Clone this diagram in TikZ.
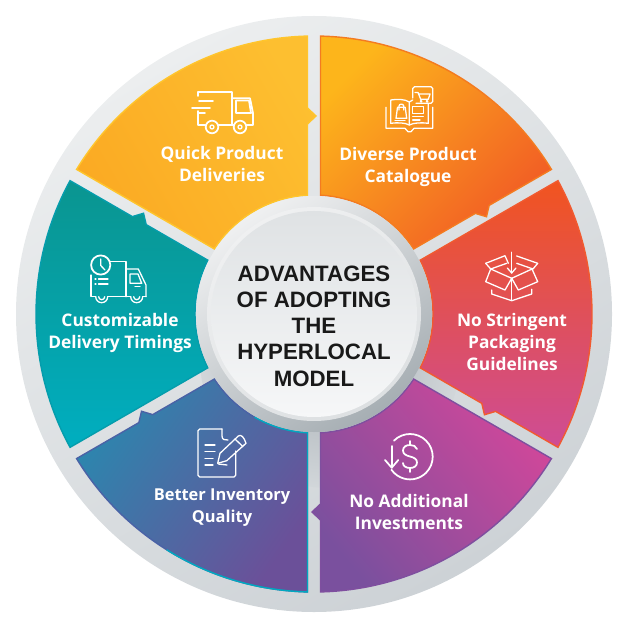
\documentclass[tikz,border=0pt]{standalone}
\usepackage{fontspec}
\setmainfont{Liberation Sans}
\newfontfamily\labelfont{Open Sans}
\usetikzlibrary{arrows}
\definecolor{diskA}{HTML}{ECEEEF}
\definecolor{diskB}{HTML}{CDD2D6}
\definecolor{hubA}{HTML}{EFF0F1}
\definecolor{hubB}{HTML}{A6AEB3}
\definecolor{rimB}{HTML}{DDE0E2}
\definecolor{coreA}{HTML}{DFE2E4}
\definecolor{coreB}{HTML}{F6F7F8}
\definecolor{yellowA}{HTML}{FDBF30}
\definecolor{yellowB}{HTML}{FBAA23}
\definecolor{yellowE}{HTML}{FFC52C}
\definecolor{tealA}{HTML}{0A9590}
\definecolor{tealB}{HTML}{00AEC0}
\definecolor{tealE}{HTML}{059DAC}
\definecolor{blueA}{HTML}{2C86AE}
\definecolor{blueB}{HTML}{6B5099}
\definecolor{blueE}{HTML}{4A62A6}
\definecolor{blueR}{HTML}{00A9C0}
\definecolor{magentaA}{HTML}{D1479A}
\definecolor{magentaB}{HTML}{7A509E}
\definecolor{magentaE}{HTML}{7F4F9F}
\definecolor{redA}{HTML}{F1541F}
\definecolor{redB}{HTML}{CE4C95}
\definecolor{redE}{HTML}{F15A30}
\definecolor{orangeA}{HTML}{FDB51B}
\definecolor{orangeB}{HTML}{F15A25}
\definecolor{orangeE}{HTML}{F47B20}
\newcommand{\petal}{(91.34:278) arc[start angle=91.34,end angle=148.66,radius=278]
  -- (146.87:119) arc[start angle=146.87,end angle=93.13,radius=119]
  -- (-6.5,190) -- (2,198) -- (-6.5,206) -- cycle}
\begin{document}
\begin{tikzpicture}[x=.03cm,y=-.03cm]
  \tikzstyle{yellow petal}=[draw=yellowE,top color=yellowA,bottom color=yellowB,shading angle=-60]
  \tikzstyle{teal petal}=[draw=tealE,top color=tealA,bottom color=tealB,shading angle=0]
  \tikzstyle{blue petal}=[draw=blueE,top color=blueA,bottom color=blueB,shading angle=55]
  \tikzstyle{magenta petal}=[draw=magentaE,top color=magentaA,bottom color=magentaB,shading angle=-50]
  \tikzstyle{red petal}=[draw=redE,top color=redA,bottom color=redB,shading angle=0]
  \tikzstyle{orange petal}=[draw=orangeE,top color=orangeA,bottom color=orangeB,shading angle=45]
  \tikzstyle{icon}=[draw=white,line width=1.5pt,line join=round,line cap=round]
  \tikzstyle{thin icon}=[icon,line width=1.1pt]
  \tikzstyle{caption}=[text=white,align=center,font=\labelfont\bfseries\fontsize{14.8pt}{18.8pt}\selectfont]
  \useasboundingbox (0,0) rectangle (628,628);
  % disk, shadow and hub
  \shade[top color=diskA,bottom color=diskB,shading angle=30] (314,314) circle[radius=298];
  \shade[inner color=hubB,outer color=diskB!85!diskA] (330,358) circle[radius=130];
  \foreach \rot/\kind in {0/yellow petal,60/teal petal,120/blue petal,180/magenta petal,240/red petal,300/orange petal}
  {
    \begin{scope}[shift={(314,314)},y=.03cm,rotate=\rot]
      \path[\kind,line width=1.2pt,shade] \petal;
    \end{scope}
  }
  \begin{scope}[shift={(314,314)},y=.03cm,rotate=120]
    \draw[blueR,line width=1.2pt] (118:278) arc[start angle=118,end angle=148.66,radius=278]
      -- (146.87:119) arc[start angle=146.87,end angle=120,radius=119];
  \end{scope}
  \shade[top color=hubA,bottom color=hubB,shading angle=35] (314,314) circle[radius=118];
  \shade[top color=hubA,bottom color=rimB,shading angle=30] (314,314) circle[radius=107];
  \shade[top color=coreA,bottom color=coreB,shading angle=0] (314,314) circle[radius=103];
  \node[align=center,text=black!90,font=\bfseries\fontsize{19pt}{22.45pt}\selectfont] (hub) at (314,326)
    {ADVANTAGES\\OF ADOPTING\\THE\\HYPERLOCAL\\MODEL};
  % captions
  \node[caption] (quick) at (222,164) {Quick Product\\Deliveries};
  \node[caption] (diverse) at (408,167) {Diverse Product\\Catalogue};
  \node[caption] (stringent) at (512,342) {No Stringent\\Packaging\\Guidelines};
  \node[caption] (additional) at (409,512) {No Additional\\Investments};
  \node[caption,font=\labelfont\bfseries\fontsize{14pt}{18.8pt}\selectfont] (better) at (222,508) {Better Inventory\\Quality};
  \node[caption] (custom) at (120,333) {Customizable\\Delivery Timings};
  % truck
  \draw[icon] (198,96) -- (198,91.7) -- (231.7,91.7) -- (231.7,125) -- (218.5,125);
  \draw[icon] (198,111) -- (198,125) -- (205.5,125);
  \draw[icon] (231.7,98.3) -- (250,98.3) -- (253,113) -- (253,125) -- (246.5,125);
  \draw[icon] (233.5,125) -- (231.7,125);
  \draw[icon] (236,100.5) -- (249,100.5) -- (251,113) -- (236,113) -- cycle;
  \draw[icon] (199,101) -- (213,101);
  \draw[icon] (192,107.7) -- (210,107.7);
  \draw[icon] (198,113) -- (205,113);
  \draw[icon] (212,127) circle[radius=6.3] (240,127) circle[radius=6.3];
  \draw[thin icon] (212,127) circle[radius=2] (240,127) circle[radius=2];
  % book with cart
  \draw[thin icon,rounded corners=1.5] (412.7,98) -- (412.7,86.7) -- (432.7,86.7) -- (432.7,103.3) -- (416,103.3);
  \draw[thin icon] (415,92.5) -- (418,92.5) -- (420.7,99.3) -- (428.3,99.3) -- (430,94) -- (419,94);
  \draw[thin icon] (421,101.3) circle[radius=.8] (427,101.3) circle[radius=.8];
  \draw[thin icon] (386,107.3) -- (386,128.3) -- (405,128.3) -- (408,131.7) -- (411,131.7) -- (414,128.3) -- (432.7,128.3) -- (432.7,107.3);
  \draw[thin icon] (390.7,123.3) -- (390.7,100) .. controls (397,99) and (405,99) .. (409.3,102) -- (409.3,125);
  \draw[thin icon] (390.7,123.3) .. controls (397,122.5) and (405,122.5) .. (409.3,125) .. controls (414,122.5) and (422,122.5) .. (428.3,123.3) -- (428.3,104);
  \draw[thin icon] (409.3,102) -- (412.7,100);
  \draw[thin icon] (396,118.3) -- (397.5,107.3) -- (405.2,107.3) -- (406.7,118.3) -- cycle;
  \draw[thin icon] (399,110) -- (399,106) .. controls (399,103.5) and (403.7,103.5) .. (403.7,106) -- (403.7,110);
  \draw[thin icon] (395,120.3) -- (405,120.3);
  \draw[thin icon] (412.7,106.7) rectangle (423.3,113.3);
  \draw[thin icon] (412.7,116.7) -- (423.3,116.7) (412.7,120) -- (420,120);
  % box
  \draw[thin icon] (485.7,263.3) -- (505,255.7) -- (508.3,263.3);
  \draw[thin icon] (516.7,256) -- (537.7,263.3) -- (533,269) -- (516.7,263.3);
  \draw[thin icon] (485.7,263.3) -- (490.7,269) -- (506.7,263.3);
  \draw[thin icon] (490.7,269) -- (511.7,278.3) -- (505,290) -- (485.7,281.7) -- cycle;
  \draw[thin icon] (532,269) -- (511.7,278.3) -- (518.3,290) -- (537.7,281.7) -- cycle;
  \draw[thin icon] (491.7,290) -- (491.7,294) -- (511.7,300.7) -- (531.7,294) -- (531.7,289.3);
  \draw[thin icon] (511.7,278.3) -- (511.7,300);
  \draw[thin icon] (511.7,252.3) -- (511.7,273);
  \draw[thin icon] (507.3,268) -- (511.7,273) -- (516,268);
  % clock truck
  \draw[icon] (100.7,265) circle[radius=9.6];
  \draw[thin icon] (100.7,259) -- (100.7,265.5) -- (105,270);
  \draw[thin icon] (110,261.7) -- (126,261.7) -- (126,296.7);
  \draw[thin icon] (91,275) -- (91,296.7) -- (95.7,296.7) (107.7,296.7) -- (130.7,296.7) (142.7,296.7) -- (146,296.7);
  \draw[thin icon] (126,269) -- (138.3,269) -- (146,285) -- (146,296.7);
  \draw[thin icon] (130,274) -- (138,274) -- (141.7,283.3) -- (130,283.3) -- cycle;
  \draw[thin icon] (135,286.7) -- (140,286.7);
  \draw[thin icon] (95,279) -- (96,279) (98.5,279) -- (108,279) (95,284) -- (96,284) (98.5,284) -- (108,284);
  \draw[thin icon] (107.7,296.7) arc[start angle=0,end angle=180,radius=6] (142.7,296.7) arc[start angle=0,end angle=180,radius=6];
  \draw[thin icon] (104.7,296.7) arc[start angle=0,end angle=180,radius=3] (139.7,296.7) arc[start angle=0,end angle=180,radius=3];
  % document with pencil
  \draw[thin icon,rounded corners=1.5] (222,429) -- (198,429) -- (198,477) -- (235.7,477) -- (235.7,451);
  \draw[thin icon] (222,429) -- (222,436) .. controls (222,440) and (225,440) .. (228,440);
  \draw[thin icon] (205,445) -- (215,445) (205,451.7) -- (215,451.7) (205,458.3) -- (213,458.3) (205,465) -- (213,465);
  \draw[thin icon] (217.7,463.3) -- (220,453.3) -- (238.3,436) .. controls (241,434) and (244,437) .. (246,443.3) -- (226.7,460.7) -- cycle;
  \draw[thin icon] (235,439) -- (243,446.7);
  \draw[thin icon] (218.3,464) -- (227,465);
  % dollar
  \begin{scope}[shift={(410,456.7)},y=.03cm]
    \draw[icon] (135:22.7) arc[start angle=135,end angle=-145,radius=22.7];
  \end{scope}
  \draw[icon] (391.7,446) -- (391.7,467.7);
  \draw[icon] (385,460) -- (391.7,467.7) -- (398.3,460);
  \draw[icon] (417,449) .. controls (416,446) and (413,445) .. (410,445) .. controls (406,445) and (403,447) .. (403,450.5)
    .. controls (403,454) and (406,455.5) .. (410,456.5) .. controls (414,457.5) and (417,459) .. (417,462.5)
    .. controls (417,466) and (414,468) .. (410,468) .. controls (406,468) and (403,466) .. (403,463);
  \draw[icon] (410,441) -- (410,445) (410,468) -- (410,472);
\end{tikzpicture}
\end{document}
